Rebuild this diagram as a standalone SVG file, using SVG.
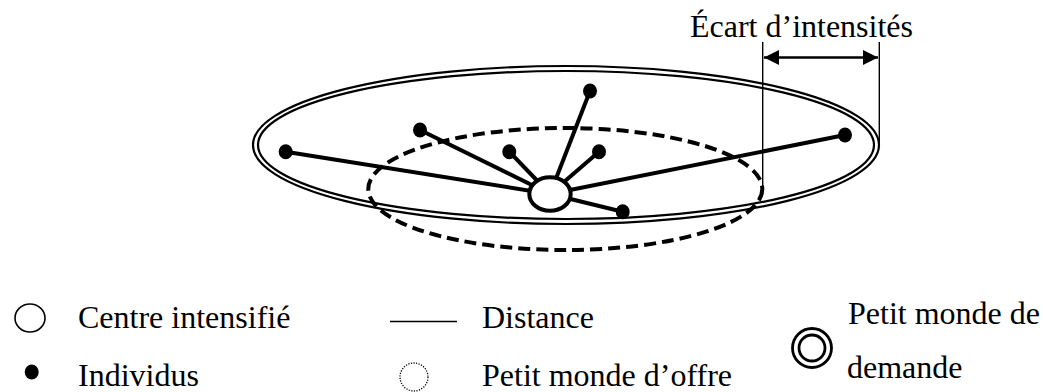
<svg xmlns="http://www.w3.org/2000/svg" width="1043" height="392" viewBox="0 0 1043 392">
<style>
text{font-family:"Liberation Serif","Times New Roman",serif;fill:#000;font-size:32px}
.dbl{fill:none;stroke:#000;stroke-width:2.2}
.dash{fill:none;stroke:#000;stroke-width:4;stroke-dasharray:12 6}
.edge{stroke:#000;stroke-width:4;fill:none}
.dot{fill:#000}
.thin{stroke:#000;stroke-width:1.4;fill:none}
</style>
<defs>
<marker id="ah" viewBox="0 0 15 15" refX="15" refY="7.5" markerWidth="15" markerHeight="15" markerUnits="userSpaceOnUse" orient="auto-start-reverse">
<path d="M0,0 L15,7.5 L0,15 Z" fill="#000"/>
</marker>
</defs>
<rect width="1043" height="392" fill="#fff"/>
<g id="demand-world">
<ellipse class="dbl" cx="566" cy="145" rx="313" ry="79"/>
<ellipse class="dbl" cx="566" cy="145" rx="308" ry="74"/>
</g>
<g id="offer-world">
<ellipse class="dash" cx="565.3" cy="189" rx="197" ry="61"/>
</g>
<g id="connectors">
<line class="edge" x1="550" y1="194" x2="285.7" y2="151.7"/>
<line class="edge" x1="550" y1="194" x2="420" y2="130"/>
<line class="edge" x1="550" y1="194" x2="509.3" y2="151.7"/>
<line class="edge" x1="550" y1="194" x2="590" y2="91"/>
<line class="edge" x1="550" y1="194" x2="599" y2="151.7"/>
<line class="edge" x1="550" y1="194" x2="622.7" y2="211.7"/>
<line class="edge" x1="550" y1="194" x2="845" y2="135"/>
</g>
<g id="individuals">
<ellipse class="dot" cx="285.7" cy="151.7" rx="7" ry="7.5"/>
<ellipse class="dot" cx="420" cy="130" rx="7" ry="7.5"/>
<ellipse class="dot" cx="509.3" cy="151.7" rx="7" ry="7.5"/>
<ellipse class="dot" cx="590" cy="91" rx="7" ry="7.5"/>
<ellipse class="dot" cx="599" cy="151.7" rx="7" ry="7.5"/>
<ellipse class="dot" cx="622.7" cy="211.7" rx="7" ry="7.5"/>
<ellipse class="dot" cx="845" cy="135" rx="7" ry="7.5"/>
</g>
<g id="center">
<ellipse cx="550" cy="194" rx="20.7" ry="16.8" fill="#fff" stroke="#000" stroke-width="4"/>
</g>
<g id="gap">
<line class="thin" x1="762.7" y1="42" x2="762.7" y2="190"/>
<line class="thin" x1="879.3" y1="42" x2="879.3" y2="145"/>
<line x1="764" y1="57.5" x2="878" y2="57.5" stroke="#000" stroke-width="2.5" marker-start="url(#ah)" marker-end="url(#ah)"/>
<text x="913" y="37" text-anchor="end">Écart d’intensités</text>
</g>
<g id="legend">
<ellipse cx="30" cy="318" rx="15" ry="14" fill="none" stroke="#000" stroke-width="1.6"/>
<text x="78" y="328">Centre intensifié</text>
<ellipse cx="31.7" cy="372" rx="7" ry="7.5" fill="#000"/>
<text x="78" y="386">Individus</text>
<line x1="390" y1="321.5" x2="457" y2="321.5" stroke="#000" stroke-width="1.4"/>
<text x="482" y="328">Distance</text>
<circle cx="414" cy="377" r="14" fill="none" stroke="#000" stroke-width="1.3" stroke-dasharray="1.2 1.4"/>
<text x="482" y="386">Petit monde d’offre</text>
<circle cx="812" cy="348" r="19.5" fill="none" stroke="#000" stroke-width="2.8"/>
<circle cx="812" cy="348" r="13" fill="none" stroke="#000" stroke-width="2.8"/>
<text x="848" y="324">Petit monde de</text>
<text x="847" y="378">demande</text>
</g>
</svg>
